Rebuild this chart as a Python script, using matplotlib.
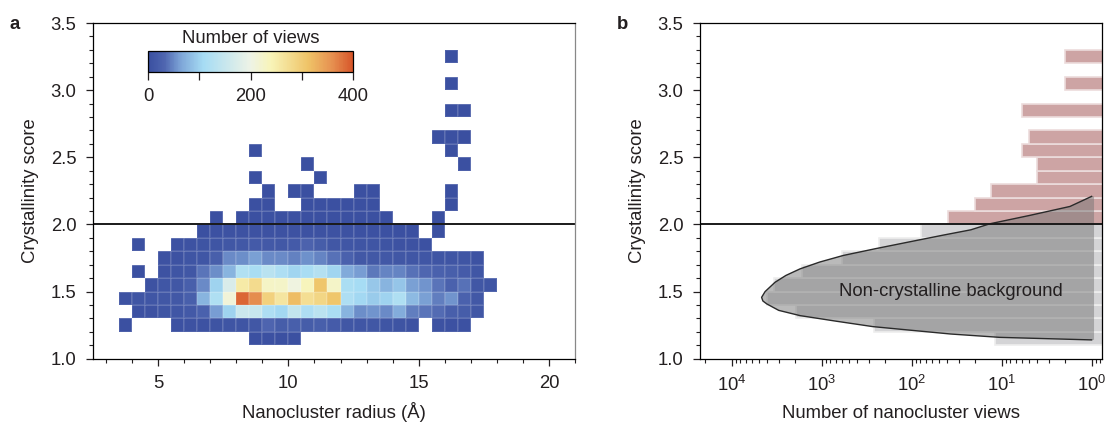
import numpy as np
import matplotlib.pyplot as plt
from matplotlib.colors import LinearSegmentedColormap
from matplotlib.ticker import MultipleLocator, FixedLocator, FixedFormatter, LogLocator, NullFormatter

plt.rcParams['font.family'] = ['Liberation Sans', 'DejaVu Sans']
plt.rcParams['font.size'] = 13.3
plt.rcParams['text.color'] = '#231f20'
plt.rcParams['axes.labelcolor'] = '#231f20'
plt.rcParams['xtick.color'] = '#231f20'
plt.rcParams['ytick.color'] = '#231f20'

# --- panel a: number of views per (radius, score) bin ---
radius_edges = np.arange(3.5, 18.01, 0.5)     # 29 columns
score_edges = np.round(np.arange(1.1, 3.31, 0.1), 2)  # 22 rows

# rows listed from top (3.2-3.3) to bottom (1.1-1.2), columns 3.5 ... 18.0 A
views = [
    [0,0,0,0,0,0,0,0,0,0,0,0,0,0,0,0,0,0,0,0,0,0,0,0,0,2,0,0,0],
    [0,0,0,0,0,0,0,0,0,0,0,0,0,0,0,0,0,0,0,0,0,0,0,0,0,0,0,0,0],
    [0,0,0,0,0,0,0,0,0,0,0,0,0,0,0,0,0,0,0,0,0,0,0,0,0,2,0,0,0],
    [0,0,0,0,0,0,0,0,0,0,0,0,0,0,0,0,0,0,0,0,0,0,0,0,0,0,0,0,0],
    [0,0,0,0,0,0,0,0,0,0,0,0,0,0,0,0,0,0,0,0,0,0,0,0,0,3,3,0,0],
    [0,0,0,0,0,0,0,0,0,0,0,0,0,0,0,0,0,0,0,0,0,0,0,0,0,0,0,0,0],
    [0,0,0,0,0,0,0,0,0,0,0,0,0,0,0,0,0,0,0,0,0,0,0,0,2,2,1,0,0],
    [0,0,0,0,0,0,0,0,0,0,3,0,0,0,0,0,0,0,0,0,0,0,0,0,0,3,0,0,0],
    [0,0,0,0,0,0,0,0,0,0,0,0,0,0,2,0,0,0,0,0,0,0,0,0,0,0,2,0,0],
    [0,0,0,0,0,0,0,0,0,0,2,0,0,0,0,2,0,0,0,0,0,0,0,0,0,0,0,0,0],
    [0,0,0,0,0,0,0,0,0,0,0,2,0,2,3,0,0,0,2,2,0,0,0,0,0,2,0,0,0],
    [0,0,0,0,0,0,0,0,0,0,2,3,0,0,2,3,2,3,2,2,0,0,0,0,0,1,0,0,0],
    [0,0,0,0,0,0,0,2,0,3,3,4,3,4,3,3,3,3,3,2,2,0,0,0,1,0,0,0,0],
    [0,0,0,0,0,0,3,4,5,5,6,5,5,6,5,5,5,5,4,4,4,3,3,0,2,0,0,0,0],
    [0,2,0,0,4,5,7,8,12,14,16,15,14,16,28,20,12,10,9,8,7,6,5,4,0,0,0,0,0],
    [0,0,0,5,6,8,10,22,50,52,62,50,50,46,54,48,38,25,14,14,13,12,10,10,9,9,8,6,0],
    [0,3,0,6,8,12,40,52,76,122,112,132,118,102,112,126,102,68,60,42,48,48,38,32,25,22,18,10,0],
    [0,0,6,10,12,22,50,100,172,255,278,228,226,205,236,308,225,115,108,92,76,90,62,56,40,26,38,12,8],
    [5,8,10,12,14,22,75,120,212,388,362,292,262,318,272,285,308,118,106,95,100,120,80,62,45,55,25,14,0],
    [0,4,6,8,10,15,25,60,100,155,150,118,105,145,118,135,115,75,52,56,50,70,45,40,35,22,20,12,0],
    [2,0,0,0,4,5,6,7,8,8,12,30,20,22,20,22,18,12,10,12,8,7,6,0,5,4,4,0,0],
    [0,0,0,0,0,0,0,0,0,0,3,4,2,2,0,0,0,0,0,0,0,0,0,0,0,0,0,0,0],
]

# --- panel b: views per score bin (summed over radius) ---
bg_scores = [1.1, 1.2, 1.3, 1.4, 1.5, 1.6, 1.7, 1.8, 1.9]
bg_counts = [12, 263, 1920, 4070, 3400, 1660, 600, 230, 78]
cryst_scores = [2.0, 2.1, 2.2, 2.3, 2.4, 2.5, 2.6, 2.7, 2.8, 2.9, 3.0, 3.1, 3.2]
cryst_counts = [39, 20, 13, 4, 4, 6, 5, 0, 6, 0, 2, 0, 2]

# fitted non-crystalline background (score, views)
fit_score = [1.140, 1.159, 1.184, 1.210, 1.239, 1.280, 1.321, 1.360, 1.408, 1.430,
             1.457, 1.500, 1.569, 1.620, 1.669, 1.720, 1.769, 1.820, 1.868, 1.920,
             1.960, 2.005, 2.067, 2.134, 2.209]
fit_views = [1.0, 10.5, 37, 95, 270, 700, 1740, 3000, 4070, 4500,
             4650, 4250, 3300, 2500, 1740, 1050, 575, 250, 110, 45,
             22, 13.5, 4.9, 1.74, 1.0]

threshold = 2.0

cmap = LinearSegmentedColormap.from_list('views', [
    (0.00, '#3a4fa0'), (0.08, '#4f66b0'), (0.16, '#7ea6d8'), (0.27, '#a6dcf4'),
    (0.50, '#eef3e6'), (0.60, '#f8f4b8'), (0.78, '#efc468'), (0.90, '#e69050'),
    (1.00, '#d7562a')])

fig = plt.figure(figsize=(11.06, 4.23), dpi=100)
ax1 = fig.add_axes([0.0841, 0.1520, 0.4358, 0.7935])
ax2 = fig.add_axes([0.6329, 0.1520, 0.3637, 0.7935])

grid = np.ma.masked_equal(np.flipud(np.array(views, dtype=float)), 0)
mesh = ax1.pcolormesh(radius_edges, score_edges, grid, cmap=cmap, vmin=0, vmax=400,
                      edgecolors=(1, 1, 1, 0.1), linewidth=0.3)
ax1.axhline(threshold, color='#1a1a1a', lw=1.4)
ax1.set_xlim(2.5, 21)
ax1.set_ylim(1.0, 3.5)
ax1.xaxis.set_major_locator(MultipleLocator(5))
ax1.xaxis.set_minor_locator(MultipleLocator(1))
ax1.set_xlabel('Nanocluster radius (Å)', labelpad=7)
ax1.set_ylabel('Crystallinity score', labelpad=8)
ax1.spines['right'].set_color('#888888')

cax = fig.add_axes([0.1338, 0.8305, 0.1854, 0.0489])
cb = fig.colorbar(mesh, cax=cax, orientation='horizontal')
cb.set_ticks([0, 100, 200, 300, 400])
cb.set_ticklabels(['0', '', '200', '', '400'])
cax.tick_params(length=6, width=0.9, pad=6, direction='out')
cb.outline.set_linewidth(0.9)
cax.set_title('Number of views', fontsize=13.3, pad=6)

# panel b
bar_h = 0.1
base = 0.5
ax2.barh([s + bar_h / 2 for s in bg_scores], [c - base for c in bg_counts], left=base,
         height=bar_h, color='#d4d4d6', edgecolor='#eeeeee', linewidth=1.2)
cs = [s + bar_h / 2 for s, c in zip(cryst_scores, cryst_counts) if c > 0]
cc = [c - base for c in cryst_counts if c > 0]
ax2.barh(cs, cc, left=base, height=bar_h, color='#cda4a4', edgecolor='#ecdcdc', linewidth=1.2)

poly_x = fit_views + [0.94, 0.94]
poly_y = fit_score + [fit_score[-1], fit_score[0]]
ax2.fill(poly_x, poly_y, color='#767676', alpha=0.5, lw=0)
ax2.plot(fit_views, fit_score, color='#2a2a2a', lw=1.0)
ax2.axhline(threshold, color='#1a1a1a', lw=1.4)
ax2.text(37, 1.50, 'Non-crystalline background', ha='center', va='center', fontsize=13.3)

ax2.set_xscale('log')
ax2.set_xlim(10 ** 4.352, 10 ** -0.118)
ax2.set_ylim(1.0, 3.5)
xt = [1e4, 1e3, 1e2, 1e1, 1e0]
ax2.xaxis.set_major_locator(FixedLocator(xt))
ax2.xaxis.set_major_formatter(FixedFormatter([r'$\mathregular{10^{4}}$', r'$\mathregular{10^{3}}$',
                                              r'$\mathregular{10^{2}}$', r'$\mathregular{10^{1}}$',
                                              r'$\mathregular{10^{0}}$']))
ax2.xaxis.set_minor_locator(LogLocator(base=10, subs=np.arange(2, 10), numticks=20))
ax2.xaxis.set_minor_formatter(NullFormatter())
ax2.set_xlabel('Number of nanocluster views', labelpad=7)
ax2.set_ylabel('Crystallinity score', labelpad=8)

for ax in (ax1, ax2):
    ax.yaxis.set_major_locator(MultipleLocator(0.5))
    ax.yaxis.set_minor_locator(MultipleLocator(0.1))
    ax.yaxis.set_major_formatter(plt.FormatStrFormatter('%.1f'))
    ax.tick_params(which='major', length=5, width=0.9, direction='out', pad=7)
    ax.tick_params(which='minor', length=3, width=0.8, direction='out')
    for sp in ax.spines.values():
        sp.set_linewidth(0.9)

fig.text(10 / 1106, 1 - 29 / 423, 'a', fontweight='bold', fontsize=13.3, va='baseline')
fig.text(617 / 1106, 1 - 29 / 423, 'b', fontweight='bold', fontsize=13.3, va='baseline')

fig.savefig('out.png', dpi=100)
